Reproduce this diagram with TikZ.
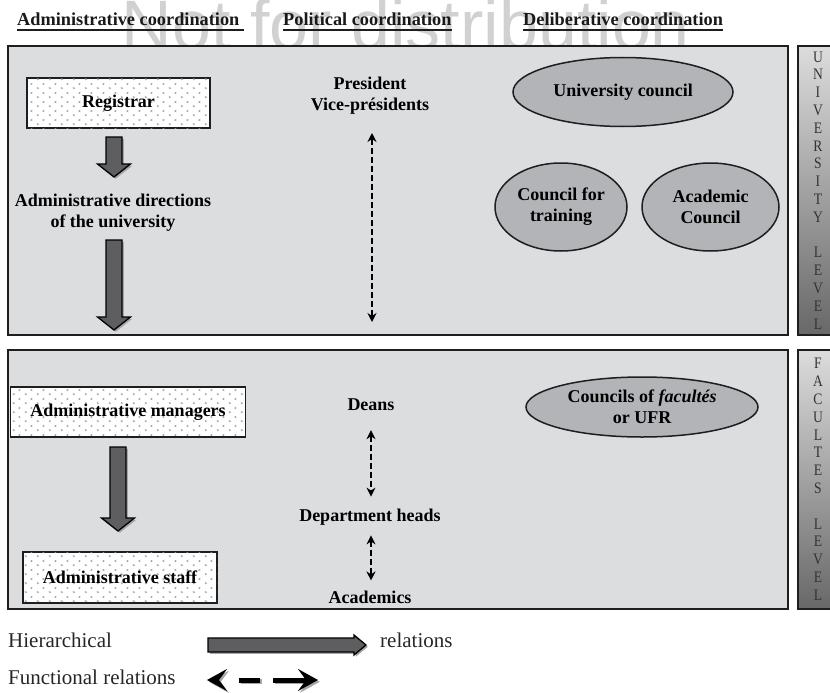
\documentclass[tikz,border=0pt]{standalone}
\usepackage{fontspec}
\setmainfont{Liberation Serif}
\newfontfamily\wmfont{Liberation Sans}
\usepackage{graphicx}
\usetikzlibrary{shapes.geometric,arrows.meta,patterns,calc}

\pgfdeclarepatternformonly{chev}{\pgfqpoint{0pt}{0pt}}{\pgfqpoint{12pt}{9pt}}{\pgfqpoint{12pt}{9pt}}{%
  \pgfsetlinewidth{0.6pt}%
  \pgfpathmoveto{\pgfqpoint{1pt}{1pt}}\pgfpathlineto{\pgfqpoint{2.8pt}{2pt}}\pgfpathlineto{\pgfqpoint{1pt}{3pt}}%
  \pgfpathmoveto{\pgfqpoint{9pt}{5.5pt}}\pgfpathlineto{\pgfqpoint{7.2pt}{6.5pt}}\pgfpathlineto{\pgfqpoint{9pt}{7.5pt}}%
  \pgfusepath{stroke}}

\definecolor{panelfill}{HTML}{DCDDDF}
\definecolor{ellfill}{HTML}{B3B4B7}
\definecolor{arrowfill}{HTML}{5E5E60}
\definecolor{edgecol}{HTML}{1E1E1E}
\definecolor{barlight}{HTML}{DCDCDC}
\definecolor{bardark}{HTML}{686868}

\newcommand{\bxfont}{\fontsize{18}{21}\selectfont\bfseries}
\newcommand{\hdfont}{\fontsize{18.3}{21}\selectfont\bfseries}
\newcommand{\sidetext}[1]{\scalebox{0.85}[1]{\fontsize{16}{17.8}\selectfont\color{black!80}\begin{tabular}{@{}c@{}}#1\end{tabular}}}

\begin{document}
\begin{tikzpicture}[x=1pt,y=-1pt,
  panel/.style={draw=edgecol, line width=1.8pt, fill=panelfill},
  sidebar/.style={top color=barlight, bottom color=bardark, draw=edgecol, line width=1.3pt},
  patbox/.style={rectangle, draw=edgecol, line width=1.8pt, fill=white,
    postaction={pattern=chev, pattern color=black!40}, font=\bxfont, inner sep=0pt},
  council/.style={ellipse, draw=edgecol, line width=1.5pt, fill=ellfill, font=\bxfont, align=center, inner sep=0pt},
  label/.style={font=\bxfont, align=center, inner sep=0pt},
  header/.style={inner sep=0pt, anchor=base west, font=\hdfont, text=black!90},
  uline/.style={line width=2pt, draw=edgecol},
  legtext/.style={font=\fontsize{21}{24}\selectfont, text=black!85, inner sep=0pt, anchor=base west},
  blockarrow/.style n args={3}{draw=black, line width=1.3pt, fill=arrowfill, line join=miter,
    preaction={draw=none, fill=black!35, transform canvas={shift={(1.8pt,-1.8pt)}}},
    to path={let \p1=(\tikztostart), \p2=(\tikztotarget),
      \n1={veclen(\x2-\x1,\y2-\y1)}, \n2={(\x2-\x1)/\n1}, \n3={(\y2-\y1)/\n1} in
      ({\x1-(\n3)*#1},{\y1+(\n2)*#1})
      -- ({\x2-(\n2)*#3-(\n3)*#1},{\y2-(\n3)*#3+(\n2)*#1})
      -- ({\x2-(\n2)*#3-(\n3)*#2},{\y2-(\n3)*#3+(\n2)*#2})
      -- (\p2)
      -- ({\x2-(\n2)*#3+(\n3)*#2},{\y2-(\n3)*#3-(\n2)*#2})
      -- ({\x2-(\n2)*#3+(\n3)*#1},{\y2-(\n3)*#3-(\n2)*#1})
      -- ({\x1+(\n3)*#1},{\y1-(\n2)*#1}) -- cycle}},
  funcarrow/.style={draw=black, line width=2.2pt, dash pattern=on 6pt off 3pt,
    {Stealth[length=9pt,width=9pt]}-{Stealth[length=9pt,width=9pt]}},
  legfunc/.style={draw=black, line width=5pt, dash pattern=on 0pt off 21pt on 21pt off 13pt on 40pt,
    {Stealth[length=20pt,width=22pt,inset=8pt]}-{Stealth[length=20pt,width=22pt,inset=8pt]}},
]
\useasboundingbox (0,0) rectangle (830,693);

% watermark
\node[font=\wmfont\fontsize{70}{70}\selectfont, text=black!18, anchor=base, inner sep=0pt] (wm) at (406,49) {Not for distribution};

% headers
\node[header] (h1) at (17,25.7) {Administrative coordination};
\node[header] (h2) at (283,25.7) {Political coordination};
\node[header] (h3) at (523,25.7) {Deliberative coordination};
\draw[uline] ([yshift=-3.8pt]h1.south west) -- ([yshift=-3.8pt,xshift=4pt]h1.south east);
\draw[uline] ([yshift=-3.8pt]h2.south west) -- ([yshift=-3.8pt]h2.south east);
\draw[uline] ([yshift=-3.8pt]h3.south west) -- ([yshift=-3.8pt]h3.south east);

% panels
\draw[panel] (8,46) rectangle (788,335);
\draw[panel] (8,350) rectangle (788,609);
\shade[sidebar] (798,46) rectangle (832,335);
\shade[sidebar] (798,350) rectangle (832,609);
\node[inner sep=0pt] (uni) at (818,192) {\sidetext{U\\N\\I\\V\\E\\R\\S\\I\\T\\Y\\~\\L\\E\\V\\E\\L}};
\node[inner sep=0pt] (fac) at (818,481) {\sidetext{F\\A\\C\\U\\L\\T\\E\\S\\~\\L\\E\\V\\E\\L}};

% university level
\node[patbox, minimum width=183pt, minimum height=50pt] (reg) at (118.5,103) {Registrar};
\node[label] (dir) at (113,213) {Administrative directions\\of the university};
\node[label] (pres) at (370,96) {President\\Vice-présidents};
\node[council, minimum width=220pt, minimum height=69pt] (uc) at (623,92) {University council};
\node[council, minimum width=132pt, minimum height=88pt] (cft) at (561,207) {Council for\\training};
\node[council, minimum width=137pt, minimum height=88pt] (ac) at (710.5,207) {Academic\\Council};

\coordinate (a1s) at (114,137);
\coordinate (a1e) at (114,177);
\coordinate (a2s) at (114,240);
\coordinate (a2e) at (114,330);
\draw[blockarrow={8pt}{16.5pt}{13pt}] (a1s) to (a1e);
\draw[blockarrow={8pt}{16.5pt}{13pt}] (a2s) to (a2e);
\coordinate (p1s) at (372,133);
\coordinate (p1e) at (372,322);
\draw[funcarrow] (p1s) -- (p1e);

% faculty level
\node[patbox, minimum width=235pt, minimum height=50pt] (mgr) at (128,412) {Administrative managers};
\node[patbox, minimum width=194pt, minimum height=51pt] (staff) at (120,577.5) {Administrative staff};
\node[label] (deans) at (371,405) {Deans};
\node[label] (dept) at (370,517) {Department heads};
\node[label] (acad) at (370,597) {Academics};
\node[council, minimum width=232pt, minimum height=60pt] (cf) at (642,407) {Councils of \textit{facultés}\\or UFR};

\coordinate (a3s) at (118,447);
\coordinate (a3e) at (118,531);
\draw[blockarrow={8pt}{16.5pt}{13pt}] (a3s) to (a3e);
\draw[funcarrow, shorten <=19pt, shorten >=12pt] (deans.south -| 371,0) -- (dept.north -| 371,0);
\draw[funcarrow, shorten <=10pt, shorten >=10pt] (dept.south -| 371,0) -- (acad.north -| 371,0);

% legend
\node[legtext] (lh) at (8,647) {Hierarchical};
\node[legtext] (lr) at (380,647) {relations};
\node[legtext] (lf) at (8,684) {Functional relations};
\coordinate (l1s) at (208,645);
\coordinate (l1e) at (366,645);
\draw[blockarrow={7pt}{10pt}{12pt}] (l1s) to (l1e);
\coordinate (l2s) at (207,680);
\coordinate (l2e) at (318,680);
\draw[legfunc, draw=black!35, transform canvas={shift={(1.8pt,-1.8pt)}}] (l2s) -- (l2e);
\draw[legfunc] (l2s) -- (l2e);
\end{tikzpicture}
\end{document}
